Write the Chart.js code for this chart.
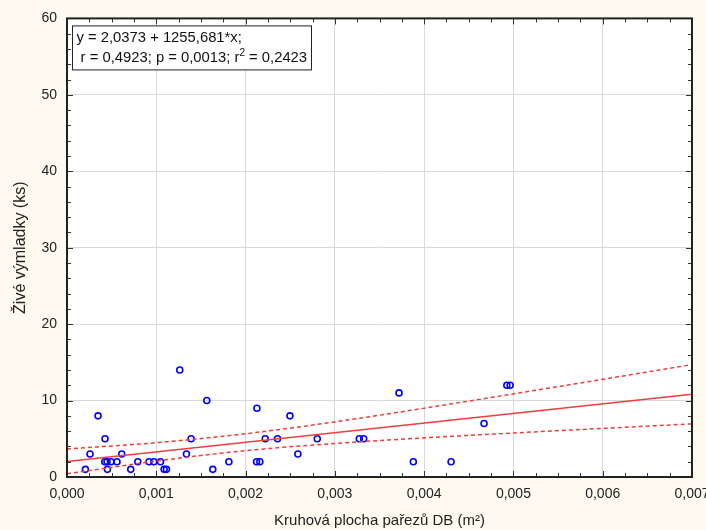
<!DOCTYPE html>
<html>
<head>
<meta charset="utf-8">
<script src="https://cdn.jsdelivr.net/npm/chart.js@4/dist/chart.umd.min.js"></script>
<style>
  html, body { margin: 0; padding: 0; background: #fffaf0; }
  #wrap { width: 706px; height: 530px; }
</style>
</head>
<body>
<div id="wrap"><canvas id="c" width="706" height="530"></canvas></div>
<script>
// Stump basal area (m²) and number of live sprouts per stump
const stumpArea = [
  0.000206, 0.000258, 0.000348, 0.000426, 0.000613,
  0.000423, 0.000448, 0.000493, 0.000560, 0.000453,
  0.000714, 0.000793, 0.000919, 0.000972, 0.001047,
  0.001088, 0.001114, 0.001263, 0.001338, 0.001390,
  0.001566, 0.001633, 0.001813, 0.002127, 0.002123,
  0.002160, 0.002220, 0.002358, 0.002497, 0.002586,
  0.002803, 0.003274, 0.003323, 0.003719, 0.003879,
  0.004302, 0.004671, 0.004926, 0.004963
];
const liveSprouts = [
  1, 3, 8, 5, 3,
  2, 2, 2, 2, 1,
  1, 2, 2, 2, 2,
  1, 1, 14, 3, 5,
  10, 1, 2, 9, 2,
  2, 5, 5, 8, 3,
  5, 5, 5, 11, 2,
  2, 7, 12, 12
];

// Fitted line y = a + b*x
const intercept = 2.0373;
const slope = 1255.681;

// 95 % confidence band of the fit
const bandX     = [0, 0.001, 0.002, 0.003, 0.004, 0.005, 0.006, 0.007];
const bandUpper = [3.67, 4.49, 5.66, 7.21, 9.00, 10.88, 12.78, 14.71];
const bandLower = [0.41, 2.09, 3.45, 4.39, 5.12, 5.76, 6.36, 6.95];

const xTicks = [0, 0.001, 0.002, 0.003, 0.004, 0.005, 0.006, 0.007];
const yTicks = [0, 10, 20, 30, 40, 50, 60];

const statLine1 = 'y = 2,0373 + 1255,681*x;';
const statLine2a = ' r = 0,4923; p = 0,0013; r';
const statLine2b = ' = 0,2423';

const FONT = '"Liberation Sans", Arial, sans-serif';
const RED = 'rgb(240,60,60)';

const scatter = stumpArea.map((x, i) => ({ x, y: liveSprouts[i] }));
const fitLine = [bandX[0], bandX[bandX.length - 1]].map(x => ({ x, y: intercept + slope * x }));
const upper = bandX.map((x, i) => ({ x, y: bandUpper[i] }));
const lower = bandX.map((x, i) => ({ x, y: bandLower[i] }));

const frame = {
  id: 'frame',
  beforeDraw(chart) {
    const { ctx, chartArea: a } = chart;
    ctx.save();
    ctx.fillStyle = '#ffffff';
    ctx.fillRect(a.left, a.top, a.right - a.left, a.bottom - a.top);
    ctx.restore();
  },
  afterDatasetsDraw(chart) {
    const { ctx, chartArea: a, scales } = chart;
    const xs = scales.x, ys = scales.y;
    ctx.save();
    ctx.strokeStyle = '#333';
    ctx.lineWidth = 1;
    ctx.beginPath();
    // inward tick marks on all four sides
    for (let k = 0; k <= 28; k++) {
      const px = Math.round(xs.getPixelForValue(k * 0.00025)) + 0.5;
      const len = k % 4 === 0 ? 6 : 4;
      ctx.moveTo(px, a.bottom); ctx.lineTo(px, a.bottom - len);
      ctx.moveTo(px, a.top); ctx.lineTo(px, a.top + len);
    }
    for (let k = 0; k <= 30; k++) {
      const py = Math.round(ys.getPixelForValue(k * 2)) + 0.5;
      const len = k % 5 === 0 ? 6 : 4;
      ctx.moveTo(a.left, py); ctx.lineTo(a.left + len, py);
      ctx.moveTo(a.right, py); ctx.lineTo(a.right - len, py);
    }
    ctx.stroke();
    ctx.lineWidth = 2;
    ctx.strokeStyle = '#222';
    ctx.strokeRect(a.left, a.top, a.right - a.left, a.bottom - a.top);

    // statistics box
    const bx = a.left + 5.5, by = a.top + 7.5, bw = 239, bh = 44;
    ctx.fillStyle = '#ffffff';
    ctx.fillRect(bx, by, bw, bh);
    ctx.lineWidth = 1;
    ctx.strokeStyle = '#222';
    ctx.strokeRect(bx, by, bw, bh);
    ctx.fillStyle = '#111';
    ctx.textBaseline = 'middle';
    const big = '14.8px ' + FONT;
    ctx.font = big;
    const tx = bx + 4;
    ctx.fillText(statLine1, tx, by + 12.5);
    const y2 = by + 32;
    ctx.fillText(statLine2a, tx, y2);
    let w = ctx.measureText(statLine2a).width;
    ctx.font = '10px ' + FONT;
    ctx.fillText('2', tx + w, y2 - 5);
    w += ctx.measureText('2').width;
    ctx.font = big;
    ctx.fillText(statLine2b, tx + w, y2);
    ctx.restore();
  }
};

new Chart(document.getElementById('c'), {
  type: 'scatter',
  data: {
    datasets: [
      {
        label: 'upper',
        data: upper,
        showLine: true,
        borderColor: RED,
        borderWidth: 1.5,
        borderDash: [4, 3],
        pointRadius: 0,
        cubicInterpolationMode: 'monotone',
        fill: false
      },
      {
        label: 'lower',
        data: lower,
        showLine: true,
        borderColor: RED,
        borderWidth: 1.5,
        borderDash: [4, 3],
        pointRadius: 0,
        cubicInterpolationMode: 'monotone',
        fill: false
      },
      {
        label: 'fit',
        data: fitLine,
        showLine: true,
        borderColor: RED,
        borderWidth: 1.5,
        pointRadius: 0,
        fill: false
      },
      {
        label: 'stumps',
        data: scatter,
        pointStyle: 'circle',
        pointRadius: 3,
        pointBorderWidth: 1.6,
        pointBorderColor: '#0000ff',
        pointBackgroundColor: 'rgba(0,0,0,0)',
        showLine: false
      }
    ]
  },
  options: {
    responsive: false,
    animation: false,
    layout: { padding: { top: 18, right: 14, left: 0, bottom: 0 } },
    plugins: { legend: { display: false }, tooltip: { enabled: false } },
    scales: {
      x: {
        type: 'linear',
        min: 0,
        max: 0.007,
        afterBuildTicks(scale) { scale.ticks = xTicks.map(v => ({ value: v })); },
        afterFit(scale) { scale.height = 53; scale.paddingLeft = 0; scale.paddingRight = 0; },
        grid: { color: '#d9d9d9', lineWidth: 1, drawTicks: false },
        border: { display: false },
        ticks: {
          padding: 9,
          color: '#222',
          font: { family: FONT, size: 14 },
          maxRotation: 0,
          autoSkip: false,
          callback: v => v.toFixed(3).replace('.', ',')
        },
        title: {
          display: true,
          text: 'Kruhová plocha pařezů DB (m²)',
          color: '#222',
          font: { family: FONT, size: 15 },
          padding: { top: 0, bottom: 0 }
        }
      },
      y: {
        min: 0,
        max: 60,
        afterBuildTicks(scale) { scale.ticks = yTicks.map(v => ({ value: v })); },
        afterFit(scale) { scale.width = 67; },
        grid: { color: '#d9d9d9', lineWidth: 1, drawTicks: false },
        border: { display: false },
        ticks: {
          padding: 10,
          color: '#222',
          font: { family: FONT, size: 14 }
        },
        title: {
          display: true,
          text: 'Živé výmladky (ks)',
          color: '#222',
          font: { family: FONT, size: 16 },
          padding: { top: 11, bottom: 0 }
        }
      }
    }
  },
  plugins: [frame]
});
</script>
</body>
</html>
